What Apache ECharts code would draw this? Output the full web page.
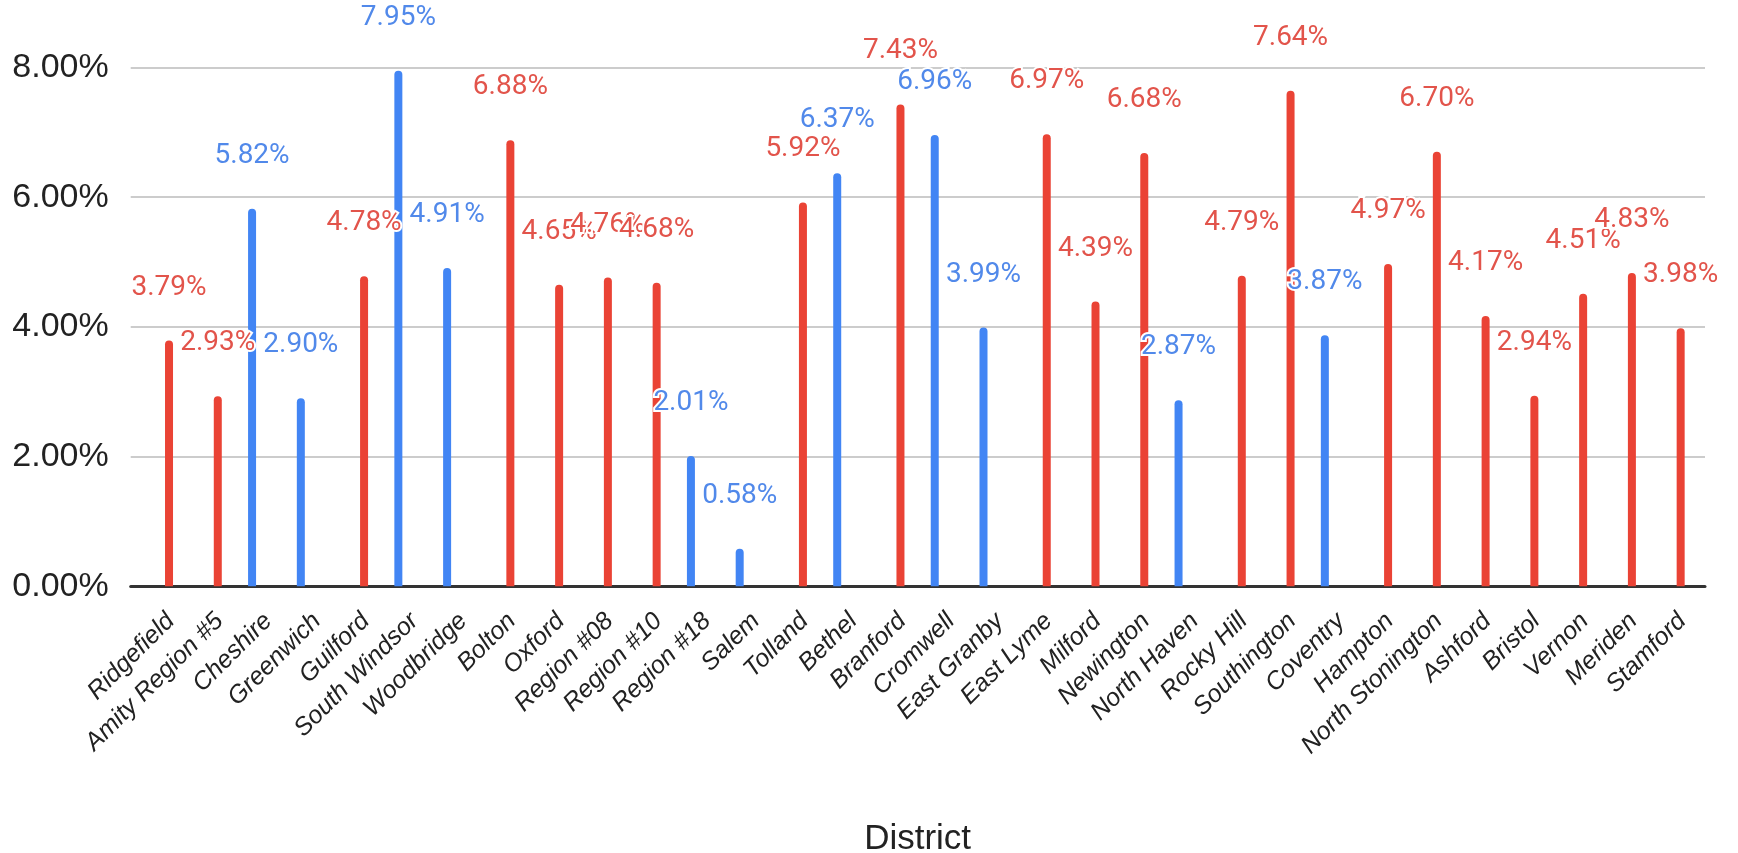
<!DOCTYPE html>
<html>
<head>
<meta charset="utf-8">
<script src="https://cdn.jsdelivr.net/npm/echarts@6/dist/echarts.min.js"></script>
<style>
html,body{margin:0;padding:0;background:#fff;}
#chart{width:1738px;height:853px;}
</style>
</head>
<body>
<div id="chart"></div>
<script>
var districts = ["Ridgefield","Amity Region #5","Cheshire","Greenwich","Guilford","South Windsor","Woodbridge","Bolton","Oxford","Region #08","Region #10","Region #18","Salem","Tolland","Bethel","Branford","Cromwell","East Granby","East Lyme","Milford","Newington","North Haven","Rocky Hill","Southington","Coventry","Hampton","North Stonington","Ashford","Bristol","Vernon","Meriden","Stamford"];
var blueValues = [null,null,5.82,2.90,null,7.95,4.91,null,null,null,null,2.01,0.58,null,6.37,null,6.96,3.99,null,null,null,2.87,null,null,3.87,null,null,null,null,null,null,null];
var redValues = [3.79,2.93,null,null,4.78,null,null,6.88,4.65,4.76,4.68,null,null,5.92,null,7.43,null,null,6.97,4.39,6.68,null,4.79,7.64,null,4.97,6.70,4.17,2.94,4.51,4.83,3.98];
var yTicks = [0, 2, 4, 6, 8];

var chart = echarts.init(document.getElementById('chart'), null, {renderer: 'canvas'});
var AX = "'Liberation Sans', Arial, sans-serif";
function lbl(color) {
  return {
    show: true, position: 'top', distance: 39,
    fontFamily: 'Roboto', fontSize: 28, color: color,
    textBorderColor: '#ffffff', textBorderWidth: 4,
    formatter: function (p) { return p.value == null ? '' : Number(p.value).toFixed(2) + '%'; }
  };
}
var option = {
  backgroundColor: '#ffffff',
  animation: false,
  grid: [
    {left: 137.4, right: 40.2, top: 67.5, bottom: 266.7, containLabel: false, outerBoundsMode: 'none'},
    {left: 130.7, right: 33, top: 67.5, bottom: 266.7, containLabel: false, outerBoundsMode: 'none'}
  ],
  xAxis: [
    {
      type: 'category', gridIndex: 0, data: districts,
      axisLine: {show: false}, axisTick: {show: false}, splitLine: {show: false},
      axisLabel: {
        interval: 0, rotate: 45, margin: 22, verticalAlign: 'top',
        fontFamily: AX, fontSize: 25, fontStyle: 'italic', color: '#222'
      },
      name: 'District', nameLocation: 'middle', nameGap: 236,
      nameTextStyle: {fontFamily: AX, fontSize: 35, color: '#222'}
    },
    {
      type: 'value', gridIndex: 1, min: 0, max: 1,
      axisLine: {show: true, onZero: false, lineStyle: {color: '#333', width: 3}},
      axisTick: {show: false}, axisLabel: {show: false}, splitLine: {show: false}
    }
  ],
  yAxis: [
    {
      type: 'value', gridIndex: 0, min: yTicks[0], max: yTicks[yTicks.length - 1], interval: 2,
      axisLine: {show: false}, axisTick: {show: false}, axisLabel: {show: false}, splitLine: {show: false}
    },
    {
      type: 'value', gridIndex: 1, min: yTicks[0], max: yTicks[yTicks.length - 1], interval: 2,
      axisLine: {show: false}, axisTick: {show: false},
      axisLabel: {
        margin: 22, fontFamily: AX, fontSize: 34, color: '#222',
        formatter: function (v) { return v.toFixed(2) + '%'; }
      },
      splitLine: {show: true, lineStyle: {color: '#cccccc', width: 2}}
    }
  ],
  series: [
    {
      name: 'Blue', type: 'bar', xAxisIndex: 0, yAxisIndex: 0, data: blueValues,
      barWidth: 8, barGap: '81%',
      itemStyle: {color: '#4285f4', borderRadius: [4, 4, 0, 0]},
      label: lbl('#5189ea')
    },
    {
      name: 'Red', type: 'bar', xAxisIndex: 0, yAxisIndex: 0, data: redValues,
      barWidth: 8, barGap: '81%',
      itemStyle: {color: '#ea4335', borderRadius: [4, 4, 0, 0]},
      label: lbl('#e2544b')
    }
  ]
};
chart.setOption(option);
</script>
</body>
</html>
